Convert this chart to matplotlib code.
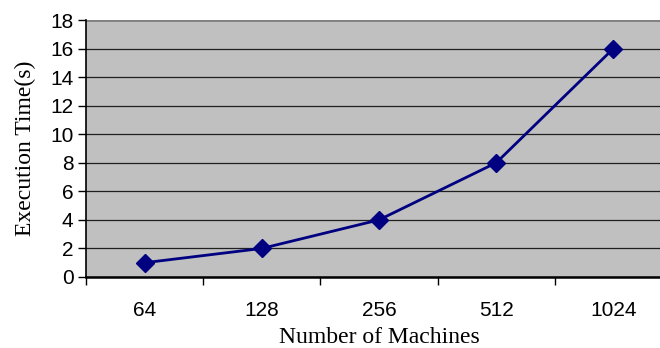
import numpy as np
import matplotlib.pyplot as plt

machines = ["64", "128", "256", "512", "1024"]
exec_time = [1, 2, 4, 8, 16]

fig = plt.figure(figsize=(6.6, 3.48), dpi=100)
# plot area spills slightly past the right edge, as in the original
ax = fig.add_axes([86 / 660, 1 - 277 / 348, 586 / 660, 257 / 348])
ax.set_facecolor("#c0c0c0")

x = np.arange(len(machines))
ax.plot(x, exec_time, color="#000080", lw=2, marker="D", ms=9,
        markerfacecolor="#000080", markeredgecolor="#000080", zorder=3)

ax.set_xlim(-0.5, len(machines) - 0.5)
ax.set_ylim(0, 18)
ax.set_yticks(np.arange(0, 19, 2))
ax.yaxis.grid(True, color="#202020", lw=0.9)
ax.set_axisbelow(True)

# category labels centred, tick marks between categories
ax.set_xticks(x)
ax.set_xticklabels(machines)
ax.set_xticks(np.arange(-0.5, len(machines), 1), minor=True)
ax.tick_params(axis="x", which="major", length=0, pad=17)
ax.tick_params(axis="x", which="minor", length=6, width=1, direction="out")
ax.tick_params(axis="y", length=6, width=1, direction="out", pad=3)

for lab in ax.get_xticklabels() + ax.get_yticklabels():
    lab.set_fontfamily("Liberation Sans")
    lab.set_fontsize(15)

for side in ["top", "right"]:
    ax.spines[side].set_visible(False)
ax.spines["left"].set_linewidth(1.2)
ax.spines["bottom"].set_linewidth(1.8)
ax.axhline(18, color="#808080", lw=2, zorder=2)

ax.set_xlabel("Number of Machines", fontfamily="Liberation Serif", fontsize=17, labelpad=5)
ax.set_ylabel("Execution Time(s)", fontfamily="Liberation Serif", fontsize=17, labelpad=10)

fig.savefig("out.png", dpi=100, facecolor="white")
